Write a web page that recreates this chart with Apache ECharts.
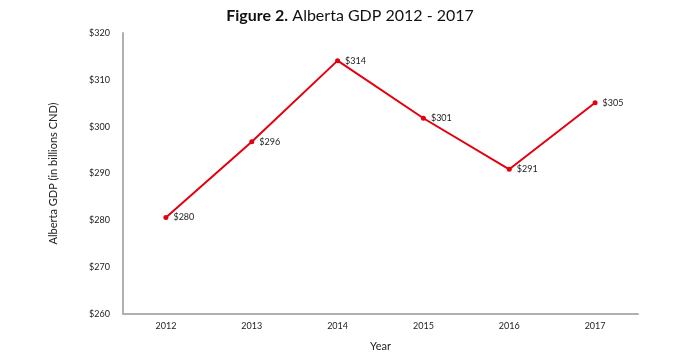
<!DOCTYPE html>
<html><head><meta charset="utf-8">
<script src="https://cdn.jsdelivr.net/npm/echarts@6/dist/echarts.min.js"></script>
<style>html,body{margin:0;padding:0;background:#fff}#c{width:700px;height:357px}</style>
</head><body><div id="c"></div>
<script>
const years = ['2012','2013','2014','2015','2016','2017'];
const gdp = [280.6, 296.8, 314.1, 301.8, 290.9, 305.1];
const pointLabels = ['$280','$296','$314','$301','$291','$305'];
const yMin = 260, yMax = 320, yStep = 10;

const chart = echarts.init(document.getElementById('c'));
chart.setOption({
  animation: false,
  textStyle: { fontFamily: 'Lato' },
  title: {
    text: '{b|Figure 2.} {r|Alberta GDP 2012 - 2017}',
    left: 'center', top: 2,
    textStyle: { rich: {
      b: { fontFamily: 'Lato', fontWeight: 'bold', fontSize: 16, color: '#111' },
      r: { fontFamily: 'Lato', fontWeight: 'normal', fontSize: 16, color: '#111' }
    } }
  },
  grid: { left: 123, right: 62, top: 33, bottom: 38, containLabel: false },
  xAxis: {
    type: 'category', data: years, boundaryGap: true,
    name: 'Year', nameLocation: 'middle', nameGap: 27,
    nameTextStyle: { fontFamily: 'Lato', fontSize: 11, color: '#222' },
    axisLine: { lineStyle: { color: '#b0b0b0', width: 2 } },
    axisTick: { show: false },
    axisLabel: { fontFamily: 'Lato', fontSize: 9, color: '#222', margin: 8 }
  },
  yAxis: {
    type: 'value', min: yMin, max: yMax, interval: yStep,
    name: 'Alberta GDP (in billions CND)', nameLocation: 'middle', nameGap: 64,
    nameTextStyle: { fontFamily: 'Lato', fontSize: 11, color: '#222' },
    axisLine: { show: true, lineStyle: { color: '#b0b0b0', width: 2 } },
    axisTick: { show: false },
    splitLine: { show: false },
    axisLabel: { fontFamily: 'Lato', fontSize: 9, color: '#222', margin: 13,
      formatter: v => '$' + v }
  },
  series: [{
    type: 'line', data: gdp,
    symbol: 'circle', symbolSize: 5,
    lineStyle: { color: '#e3000f', width: 2 },
    itemStyle: { color: '#e3000f' },
    label: { show: true, position: 'right', distance: 5, fontFamily: 'Lato', fontSize: 9, color: '#222',
      formatter: p => pointLabels[p.dataIndex] }
  }]
});
</script></body></html>
